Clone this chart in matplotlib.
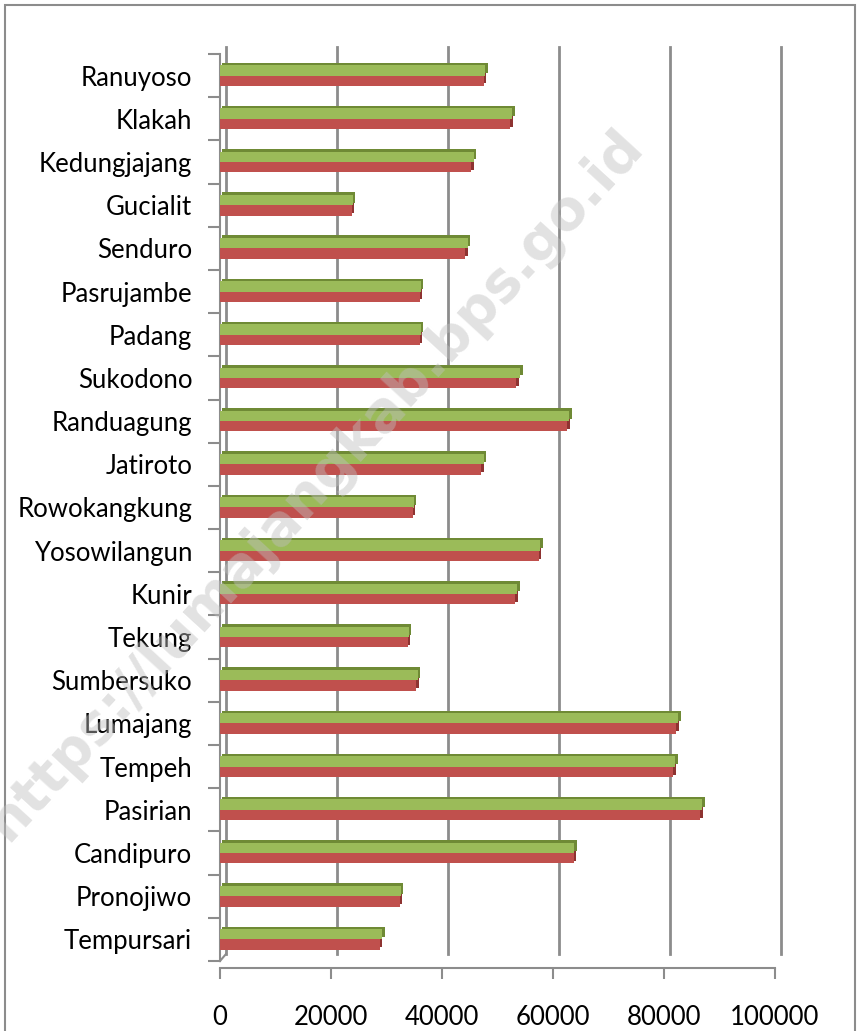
import matplotlib.pyplot as plt
import matplotlib.transforms as mtransforms
from matplotlib.patches import Rectangle
import numpy as np

# kecamatan, from bottom to top as in the chart
kecamatan = ["Tempursari", "Pronojiwo", "Candipuro", "Pasirian", "Tempeh",
             "Lumajang", "Sumbersuko", "Tekung", "Kunir", "Yosowilangun",
             "Rowokangkung", "Jatiroto", "Randuagung", "Sukodono", "Padang",
             "Pasrujambe", "Senduro", "Gucialit", "Kedungjajang", "Klakah",
             "Ranuyoso"]
# green series (upper bar of each pair)
perempuan = [29200, 32600, 63800, 86900, 82000, 82600, 35600, 34000, 53600,
             57700, 34900, 47500, 62900, 54100, 36200, 36200, 44600, 23900,
             45700, 52700, 47800]
# red series (lower bar of each pair)
laki_laki = [28800, 32400, 63700, 86500, 81700, 82200, 35400, 33800, 53200,
             57400, 34700, 47100, 62600, 53400, 36000, 36000, 44200, 23700,
             45300, 52300, 47500]
x_ticks = [0, 20000, 40000, 60000, 80000, 100000]

plt.rcParams['font.family'] = ['Lato', 'DejaVu Sans']

fig = plt.figure(figsize=(8.58, 10.31), dpi=100)
ax = fig.add_axes([220 / 858, 1 - 961 / 1031, 555 / 858, 907 / 1031])

y = np.arange(len(kecamatan))
h = 0.24
grid_col = "#8c8c8c"

# 3D-ish offset for the bar depth (goes back up and to the right)
depth = mtransforms.offset_copy(ax.transData, fig=fig, x=2.5, y=2.5, units='dots')

# back wall gridlines and floor connectors
tr = mtransforms.blended_transform_factory(ax.transData, ax.transAxes)
tr_back = mtransforms.offset_copy(tr, fig=fig, x=6, y=7, units='dots')
for v in x_ticks:
    ax.plot([v, v], [0, 1], color=grid_col, lw=2, transform=tr_back,
            clip_on=False, zorder=1)
    p0 = tr_back.transform((v, 0))
    p1 = tr.transform((v, 0))
    ax.plot([p0[0], p1[0]], [p0[1], p1[1]], color=grid_col, lw=1.5,
            transform=None, clip_on=False, zorder=1)

# bars: dark depth copy behind, face in front
ax.barh(y + h / 2, perempuan, height=h, color="#6f8a35", transform=depth,
        zorder=2)
ax.barh(y - h / 2, laki_laki, height=h, color="#8e3331", transform=depth,
        zorder=2)
ax.barh(y + h / 2, perempuan, height=h, color="#9bbb59", zorder=3)
ax.barh(y - h / 2, laki_laki, height=h, color="#c0504d", zorder=3)

ax.set_xlim(0, 100000)
ax.set_ylim(-0.5, len(kecamatan) - 0.5)
ax.set_xticks(x_ticks)
ax.set_xticklabels([str(v) for v in x_ticks])
ax.set_yticks(y)
ax.set_yticklabels(kecamatan)
ax.set_yticks(np.arange(len(kecamatan) + 1) - 0.5, minor=True)

for s in ["top", "right"]:
    ax.spines[s].set_visible(False)
for s in ["left", "bottom"]:
    ax.spines[s].set_color(grid_col)
    ax.spines[s].set_linewidth(1.5)
ax.spines["bottom"].set_position(("outward", 5))

ax.tick_params(axis="y", which="major", length=0, pad=20, labelsize=18.5)
ax.tick_params(axis="y", which="minor", length=9, width=1.5, color=grid_col)
ax.tick_params(axis="x", length=8, width=1.5, color=grid_col, pad=19,
               labelsize=18.5)

# outer chart frame
fig.add_artist(Rectangle((5 / 858, -0.05), 850 / 858, 1 - 5 / 1031 + 0.05,
                         transform=fig.transFigure, fill=False,
                         edgecolor="#8c8c8c", lw=1.5))

# watermark (cut at the left edge, as in the source image)
fig.text(0.367, 0.53, "https://lumajangkab.bps.go.id", fontsize=40,
         fontweight="bold", color="#bfbfbf", alpha=0.45, rotation=47.5,
         ha="center", va="center", family="DejaVu Sans", zorder=10)

fig.savefig("out.png", dpi=100)
